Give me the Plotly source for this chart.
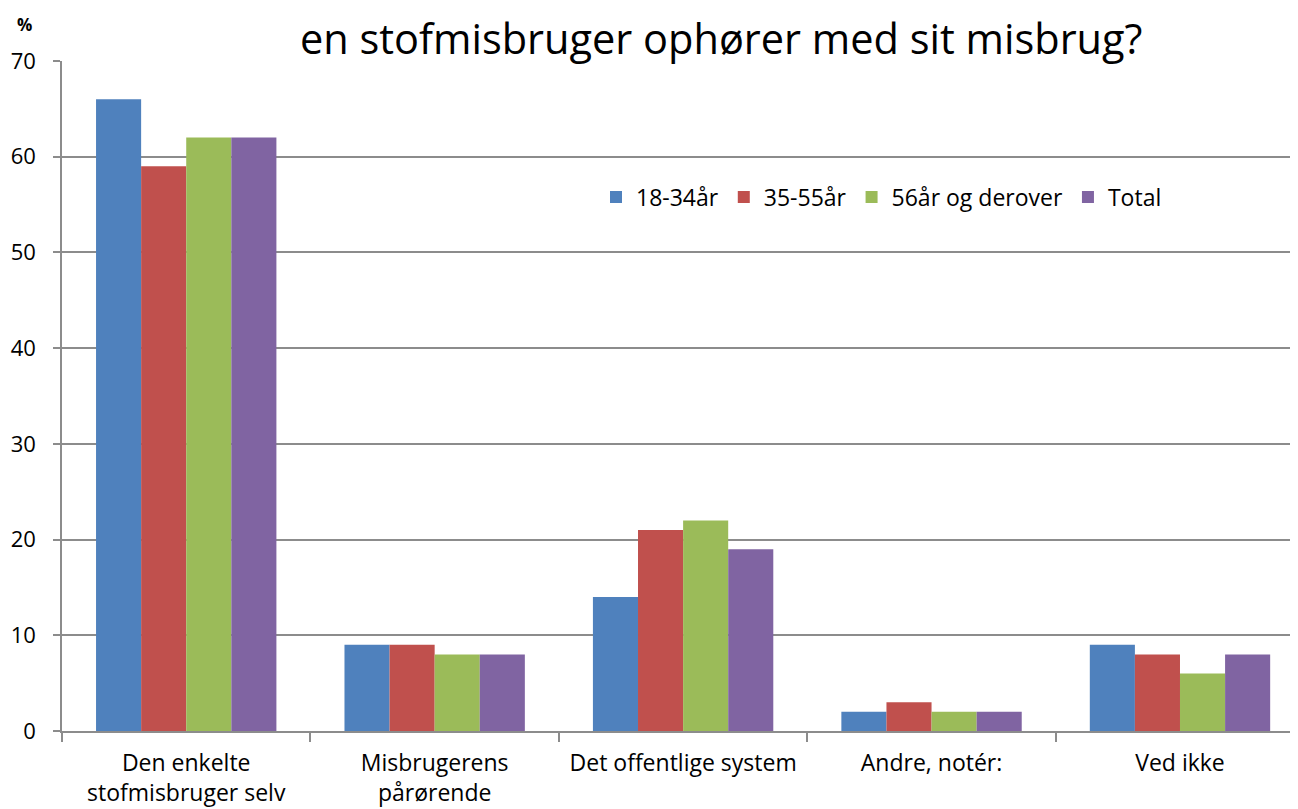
import plotly.graph_objects as go

categories = ["Den enkelte<br>stofmisbruger selv", "Misbrugerens<br>pårørende",
              "Det offentlige system", "Andre, notér:", "Ved ikke"]
series_names = ["18-34år", "35-55år", "56år og derover", "Total"]
v_18_34 = [66, 9, 14, 2, 9]
v_35_55 = [59, 9, 21, 3, 8]
v_56 = [62, 8, 22, 2, 6]
v_total = [62, 8, 19, 2, 8]
colors = ["#4F81BD", "#C0504D", "#9BBB59", "#8064A2"]

FONT = "Open Sans"

# page has an 8px body margin; figure sized so it fits the window
W, H = 1290, 801
L, T, B = 54, 53, 78
PW = W - L

fig = go.Figure()
for name, vals, c in zip(series_names, [v_18_34, v_35_55, v_56, v_total], colors):
    fig.add_trace(go.Bar(x=categories, y=vals, name=name, marker=dict(color=c, line=dict(width=0))))

fig.update_layout(
    width=W, height=H,
    margin=dict(l=L, r=0, t=T, b=B, autoexpand=False),
    paper_bgcolor="white", plot_bgcolor="white",
    barmode="group", bargap=0.274, bargroupgap=0,
    font=dict(family=FONT, size=19, color="#000000"),
    legend=dict(orientation="h", x=(588 - L) / PW, y=0.797, xanchor="left", yanchor="middle",
                font=dict(family=FONT, size=23), itemwidth=30, tracegroupgap=0,
                bgcolor="rgba(0,0,0,0)"),
    showlegend=True,
)
fig.update_yaxes(range=[0, 70], dtick=10, showgrid=True, gridcolor="#8C8C8C", gridwidth=1.5,
                 showline=True, linecolor="#8C8C8C", linewidth=1.5,
                 ticks="outside", ticklen=7, tickcolor="#8C8C8C", tickwidth=1.5,
                 ticklabelstandoff=13,
                 tickfont=dict(family=FONT, size=22), zeroline=False)
fig.update_xaxes(range=[-0.5, 4.475],
                 showline=True, linecolor="#8C8C8C", linewidth=1.5,
                 ticks="outside", ticklen=9, tickcolor="#8C8C8C", tickwidth=1.5,
                 ticklabelstandoff=11,
                 tickson="boundaries", tickfont=dict(family=FONT, size=23))

fig.add_annotation(text="en stofmisbruger ophører med sit misbrug?", xref="paper", yref="paper",
                   x=(713 - L) / PW, y=1.0, yshift=23, xanchor="center", yanchor="middle",
                   showarrow=False, font=dict(family=FONT, size=41.5, color="#000000"))
fig.add_annotation(text="<b>%</b>", xref="paper", yref="paper", x=(16 - L) / PW, y=1.0, yshift=37,
                   xanchor="center", yanchor="middle", showarrow=False,
                   font=dict(family=FONT, size=17, color="#000000"))

fig.write_html("out.html")
